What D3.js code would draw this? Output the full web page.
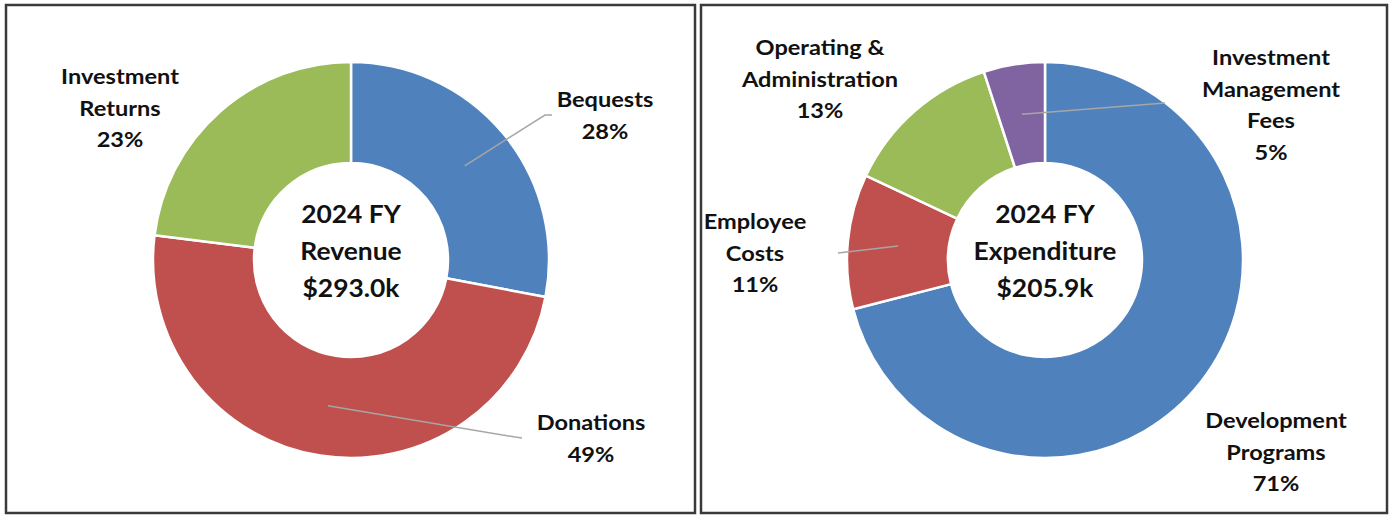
<!DOCTYPE html>
<html>
<head>
<meta charset="utf-8">
<script src="https://cdnjs.cloudflare.com/ajax/libs/d3/7.8.5/d3.min.js"></script>
<style>
    body { margin: 0; background: #fff; }
    svg text { font-family: Lato, "Open Sans", sans-serif; font-weight: 700; fill: #111; }
</style>
</head>
<body>
<div id="chart"></div>
<script>
// Revenue data
const revenueLabels = [["Bequests"], ["Donations"], ["Investment", "Returns"]];
const revenueValues = [28, 49, 23];
const revenueTitle  = ["2024 FY", "Revenue", "$293.0k"];

// Expenditure data
const expenseLabels = [["Development", "Programs"], ["Employee", "Costs"], ["Operating &", "Administration"], ["Investment", "Management", "Fees"]];
const expenseValues = [71, 11, 13, 5];
const expenseTitle  = ["2024 FY", "Expenditure", "$205.9k"];

const sliceColors = ["#4F81BD", "#C0504D", "#9BBB59", "#8064A2"];

const W = 1394, H = 516;

const svg = d3.select("#chart").append("svg")
    .attr("width", W)
    .attr("height", H);

// Layout for each panel: frame, donut center, label anchors, leader ends
const panels = [
    {
        labels: revenueLabels, values: revenueValues, title: revenueTitle,
        frame: {x: 6, y: 5, w: 689, h: 508},
        cx: 351, cy: 260,
        labelPos: [[605, 100], [591, 423], [120, 77]],
        leader: [[[545, 115], [552, 115]], [[515, 437], [522, 438]], null]
    },
    {
        labels: expenseLabels, values: expenseValues, title: expenseTitle,
        frame: {x: 701, y: 5, w: 686, h: 508},
        cx: 1045, cy: 260,
        labelPos: [[1276, 421], [755, 222], [820, 48], [1271, 58]],
        leader: [null, [[838, 253]], null, [[1165, 103]]]
    }
];

const outerR = 198, innerR = 97;
const lineH = 31.5;

// Calibri-like: Lato stretched a bit horizontally
function stackedText(x, y, lines, size, sx, step) {
    let t = svg.append("text")
        .attr("text-anchor", "middle")
        .attr("font-size", size)
        .attr("transform", "translate(" + x + "," + y + ") scale(" + sx + ",1)");
    lines.forEach(function(s, k) {
        t.append("tspan")
            .attr("x", 0)
            .attr("y", k * step)
            .attr("dy", "0.35em")
            .text(s);
    });
    return t;
}

panels.forEach(function(p) {
    // Frame
    svg.append("rect")
        .attr("x", p.frame.x).attr("y", p.frame.y)
        .attr("width", p.frame.w).attr("height", p.frame.h)
        .attr("fill", "none")
        .attr("stroke", "#3a3a3a")
        .attr("stroke-width", 2.5);

    let pie = d3.pie().sort(null).value(d => d);
    let arc = d3.arc().innerRadius(innerR).outerRadius(outerR);
    let arcs = pie(p.values);

    let g = svg.append("g")
        .attr("transform", "translate(" + p.cx + "," + p.cy + ")");

    g.selectAll("path.slice")
        .data(arcs)
        .enter().append("path")
            .attr("class", "slice")
            .attr("d", arc)
            .attr("fill", (d, i) => sliceColors[i])
            .attr("stroke", "#fff")
            .attr("stroke-width", 2.5)
            .attr("stroke-linejoin", "round");

    // Leader lines from slice centroid to label
    arcs.forEach(function(a, i) {
        if (!p.leader[i]) return;
        let c = arc.centroid(a);
        let pts = [[p.cx + c[0], p.cy + c[1]]].concat(p.leader[i]);
        svg.append("path")
            .attr("d", d3.line()(pts))
            .attr("fill", "none")
            .attr("stroke", "#a6a6a6")
            .attr("stroke-width", 1.5);
    });

    // Slice labels
    arcs.forEach(function(a, i) {
        let lines = p.labels[i].concat([p.values[i] + "%"]);
        stackedText(p.labelPos[i][0], p.labelPos[i][1], lines, 20.5, 1.15, lineH);
    });

    // Center title
    stackedText(p.cx, p.cy - 45, p.title, 24, 1.1, 37);
});
</script>
</body>
</html>
